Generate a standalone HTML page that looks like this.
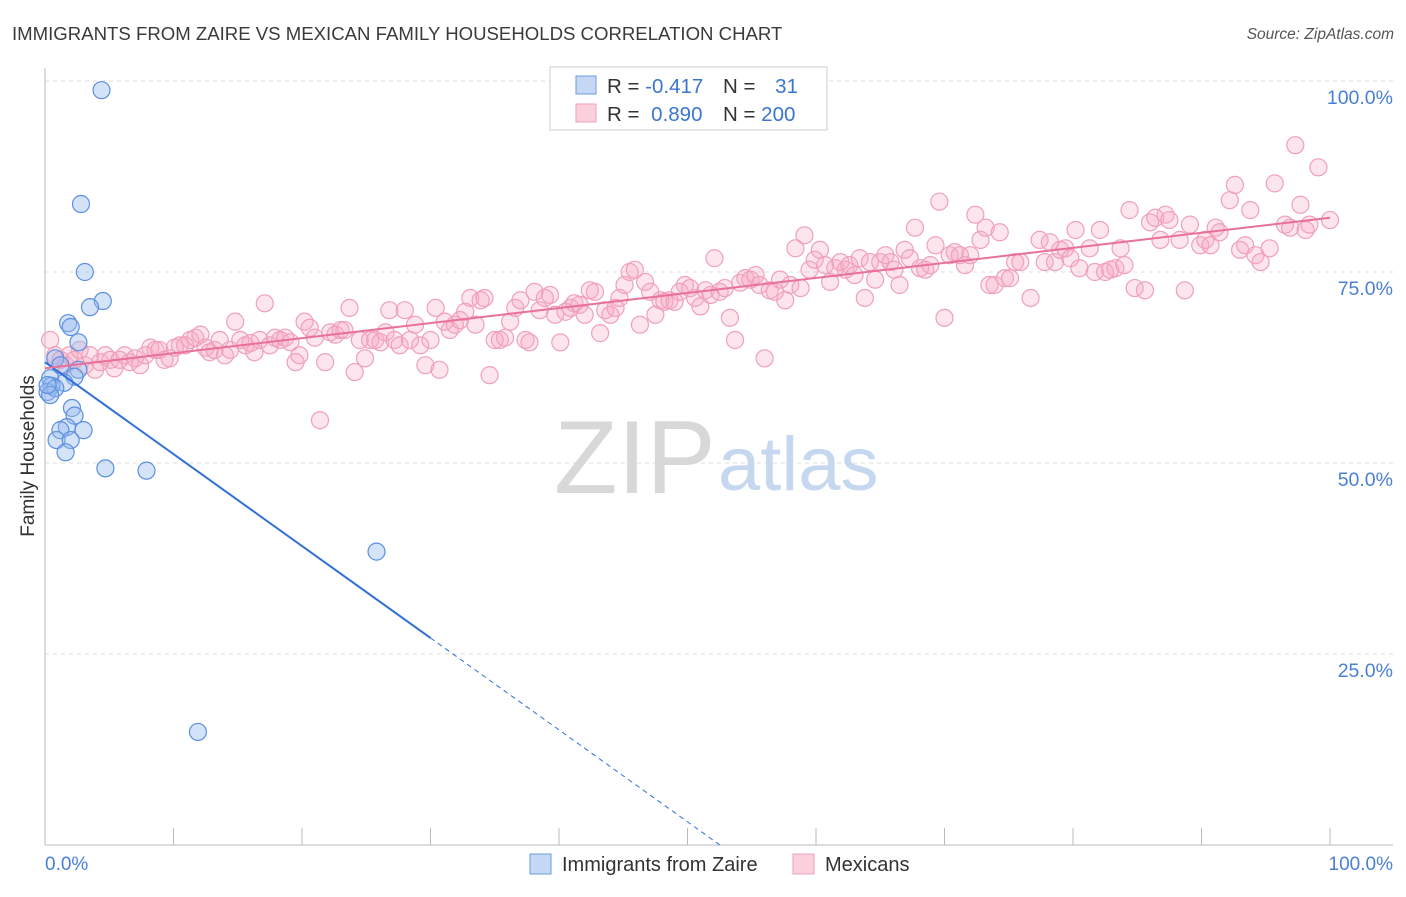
<!DOCTYPE html>
<html><head><meta charset="utf-8"><style>
body{margin:0;background:#fff;font-family:"Liberation Sans",sans-serif;}
svg text{font-family:"Liberation Sans",sans-serif;}
</style></head><body>
<svg id="chart" width="1406" height="892" xmlns="http://www.w3.org/2000/svg">
<text x="12" y="40" font-size="18.6" fill="#3a3a3a">IMMIGRANTS FROM ZAIRE VS MEXICAN FAMILY HOUSEHOLDS CORRELATION CHART</text>
<text x="1394" y="39" font-size="15.5" fill="#555" text-anchor="end" font-style="italic">Source: ZipAtlas.com</text>
<g id="grid"></g>
<text x="554" y="493" font-size="104" fill="#d8d8d8" font-family="Liberation Serif,serif">ZIP</text>
<text x="718" y="490" font-size="76" fill="#c5d8f0">atlas</text>
<line x1="45" y1="68" x2="45" y2="845" stroke="#bbb"/>
<line x1="45" y1="845" x2="1393" y2="845" stroke="#bbb"/>
<g id="xticks"></g>
<g id="ylabels"></g>
<text x="45" y="870" font-size="19" fill="#4a7fd6">0.0%</text>
<text x="1393" y="870" font-size="19" fill="#4a7fd6" text-anchor="end">100.0%</text>
<text transform="translate(34,456) rotate(-90)" font-size="19" fill="#333" text-anchor="middle">Family Households</text>
<g id="pink"></g>
<g id="blue"></g>
<g id="lines"></g>
<g>
<rect x="550" y="67" width="277" height="63" fill="#fff" stroke="#ccc"/>
<rect x="576" y="76" width="20" height="18" fill="#c5d8f5" stroke="#6b9be0"/>
<rect x="576" y="104" width="20" height="18" fill="#fbd0dd" stroke="#f0a0b8"/>
<text x="607" y="93" font-size="20.5" fill="#333">R = <tspan fill="#3a75d0">-0.417</tspan></text>
<text x="723" y="93" font-size="20.5" fill="#333">N = <tspan fill="#3a75d0" dx="14">31</tspan></text>
<text x="607" y="121" font-size="20.5" fill="#333">R = <tspan fill="#3a75d0" dx="6">0.890</tspan></text>
<text x="723" y="121" font-size="20.5" fill="#333">N = <tspan fill="#3a75d0">200</tspan></text>
</g>
<g>
<rect x="530" y="854" width="21" height="20" fill="#c5d8f5" stroke="#6b9be0"/>
<text x="562" y="871" font-size="20" fill="#333">Immigrants from Zaire</text>
<rect x="793" y="854" width="21" height="20" fill="#fbd0dd" stroke="#f0a0b8"/>
<text x="825" y="871" font-size="20" fill="#333">Mexicans</text>
</g>
</svg>
<script>
const yTicks=[25,50,75,100];
const yTickLabels=["25.0%","50.0%","75.0%","100.0%"];
const xTicks=[10,20,30,40,50,60,70,80,90,100];
const zaireTrend=[63.2,27.1];
const mexTrend=[62.4,82.1];
const zairePoints=[[4.4,98.8],[2.8,83.9],[3.1,75.0],[4.5,71.2],[3.5,70.4],[1.8,68.3],[2.0,67.8],[2.6,65.8],[0.8,63.7],[1.2,62.8],[2.6,62.2],[2.3,61.3],[0.4,61.1],[1.5,60.5],[0.5,60.1],[0.2,59.3],[0.8,59.8],[2.1,57.2],[2.3,56.2],[3.0,54.3],[1.7,54.7],[1.2,54.3],[0.9,53.0],[2.0,53.0],[1.6,51.4],[4.7,49.3],[7.9,49.0],[25.8,38.4],[11.9,14.8],[0.4,58.9],[0.2,60.2]];
const mexicanPoints=[[0.4,66.1],[0.8,64.1],[1.2,63.5],[1.6,62.8],[1.9,64.1],[2.3,63.5],[2.7,64.8],[3.1,62.8],[3.5,64.1],[3.9,62.2],[4.3,63.2],[4.7,64.1],[5.1,63.5],[5.4,62.4],[5.8,63.5],[6.2,64.1],[6.6,63.2],[7.0,63.7],[7.4,62.8],[7.8,64.1],[8.2,65.1],[8.6,64.8],[8.9,64.8],[9.3,63.5],[9.7,63.7],[10.1,65.1],[10.5,65.4],[10.9,65.4],[11.3,66.1],[11.7,66.4],[12.1,66.8],[12.5,65.1],[12.8,64.5],[13.2,64.8],[13.6,66.1],[14.0,64.1],[14.4,64.8],[14.8,68.5],[15.2,66.1],[15.6,65.4],[16.0,65.7],[16.3,64.5],[16.7,66.1],[17.1,70.9],[17.5,65.4],[17.9,66.4],[18.3,66.1],[18.7,66.4],[19.1,65.8],[19.5,63.2],[19.8,64.1],[20.2,68.5],[20.6,67.7],[21.0,66.4],[21.4,55.6],[21.8,63.2],[22.2,67.1],[22.6,66.8],[23.0,67.4],[23.3,67.4],[23.7,70.3],[24.1,61.9],[24.5,66.1],[24.9,63.7],[25.3,66.1],[25.7,66.1],[26.1,65.8],[26.5,67.1],[26.8,70.0],[27.2,66.1],[27.6,65.4],[28.0,70.0],[28.4,66.1],[28.8,68.1],[29.2,65.4],[29.6,62.8],[30.0,66.1],[30.4,70.3],[30.7,62.2],[31.1,68.5],[31.5,67.4],[31.9,68.1],[32.3,68.7],[32.7,69.8],[33.1,71.6],[33.5,68.1],[33.9,71.3],[34.2,71.6],[34.6,61.5],[35.0,66.1],[35.4,66.1],[35.8,66.4],[36.2,68.5],[36.6,70.3],[37.0,71.3],[37.4,66.1],[37.7,65.8],[38.1,72.4],[38.5,70.0],[38.9,71.6],[39.3,72.0],[39.7,69.4],[40.1,65.8],[40.5,69.8],[40.9,70.3],[41.2,70.9],[41.6,70.7],[42.0,69.4],[42.4,72.6],[42.8,72.4],[43.2,67.0],[43.6,70.0],[44.0,69.4],[44.4,70.3],[44.7,71.6],[45.1,73.3],[45.5,75.0],[45.9,75.3],[46.3,68.1],[46.7,73.7],[47.1,72.4],[47.5,69.4],[47.9,71.3],[48.2,71.1],[48.6,71.3],[49.0,71.1],[49.4,72.4],[49.8,73.3],[50.2,72.9],[50.6,71.6],[51.0,70.5],[51.4,72.6],[51.8,72.0],[52.1,76.8],[52.5,72.4],[52.9,72.9],[53.3,69.0],[53.7,66.1],[54.1,73.6],[54.5,74.2],[54.9,74.0],[55.3,74.6],[55.6,73.3],[56.0,63.7],[56.4,72.6],[56.8,72.4],[57.2,74.0],[57.6,71.3],[58.0,73.3],[58.4,78.1],[58.8,72.9],[59.1,79.8],[59.5,75.3],[59.9,76.6],[60.3,77.9],[60.7,75.9],[61.1,73.7],[61.5,75.5],[61.9,76.3],[62.3,75.3],[62.6,75.9],[63.0,74.6],[63.4,76.8],[63.8,71.6],[64.2,76.3],[64.6,74.0],[65.0,76.3],[65.4,77.2],[65.8,76.3],[66.1,75.3],[66.5,73.3],[66.9,77.9],[67.3,76.8],[67.7,80.8],[68.1,75.5],[68.5,75.3],[68.9,75.9],[69.3,78.5],[69.6,84.2],[70.0,69.0],[70.4,77.2],[70.8,77.6],[71.2,77.2],[71.6,75.9],[72.0,77.2],[72.4,82.5],[72.8,79.2],[73.2,80.8],[73.5,73.3],[73.9,73.3],[74.3,80.2],[74.7,74.2],[75.1,74.2],[75.5,76.3],[75.9,76.3],[76.7,71.6],[77.4,79.2],[77.8,76.3],[78.2,78.9],[78.6,76.3],[79.0,77.9],[79.4,78.1],[79.8,76.8],[80.2,80.5],[80.5,75.5],[81.3,78.1],[81.7,75.0],[82.1,80.5],[82.5,75.0],[82.9,75.3],[83.3,75.5],[83.7,78.1],[84.0,75.9],[84.4,83.1],[84.8,72.9],[85.6,72.6],[86.0,81.5],[86.4,82.1],[86.8,79.2],[87.2,82.5],[87.5,81.8],[88.3,79.2],[88.7,72.6],[89.1,81.2],[89.9,78.5],[90.3,79.2],[90.7,78.5],[91.1,80.8],[91.4,80.2],[92.2,84.4],[92.6,86.4],[93.0,77.9],[93.4,78.5],[93.8,83.1],[94.2,77.2],[94.6,76.3],[95.3,78.1],[95.7,86.6],[96.5,81.2],[96.9,80.8],[97.3,91.6],[97.7,83.8],[98.1,80.5],[98.4,81.2],[99.1,88.7],[100.0,81.8]];
const NS="http://www.w3.org/2000/svg";
function X(v){return 45+v*12.85;}
function Y(v){return 845-v*7.64;}
function mk(tag,attrs,parent){const e=document.createElementNS(NS,tag);for(const k in attrs)e.setAttribute(k,attrs[k]);document.getElementById(parent).appendChild(e);return e;}
yTicks.forEach((t,i)=>{
 const l=mk('line',{x1:45,x2:1393,y1:Y(t),y2:Y(t),stroke:'#ddd','stroke-dasharray':'4,4'},'grid');
 
 
 const tx=mk('text',{x:1393,y:Y(t)+23,'font-size':19.5,fill:'#4a7fd6','text-anchor':'end'},'ylabels');
 tx.textContent=yTickLabels[i];
 
 
});
xTicks.forEach(t=>{
 const l=mk('line',{x1:X(t),x2:X(t),y1:828,y2:845,stroke:'#bbb'},'xticks');
 
 
});
mexicanPoints.forEach(p=>{
 const c=mk('circle',{cx:X(p[0]),cy:Y(p[1]),r:8.5,fill:'rgba(248,170,195,0.3)',stroke:'#f0a0b8','stroke-width':1.2},'pink');
 
 
});
zairePoints.forEach(p=>{
 const c=mk('circle',{cx:X(p[0]),cy:Y(p[1]),r:8.5,fill:'rgba(150,185,240,0.4)',stroke:'#5b8fe0','stroke-width':1.2},'blue');
 
 
});
const slope=(zaireTrend[1]-zaireTrend[0])/30;
const bl=mk('line',{x1:X(0),y1:Y(zaireTrend[0]),x2:X(30),y2:Y(zaireTrend[1]),stroke:'#2f6fd8','stroke-width':2},'lines');


const bd=mk('line',{x1:X(30),y1:Y(zaireTrend[1]),x2:X(-zaireTrend[0]/slope),y2:Y(0),stroke:'#2f6fd8','stroke-width':1,'stroke-dasharray':'5,4'},'lines');


const pl=mk('line',{x1:X(0),y1:Y(mexTrend[0]),x2:X(100),y2:Y(mexTrend[1]),stroke:'#e8709a','stroke-width':2},'lines');


</script>
</body></html>
